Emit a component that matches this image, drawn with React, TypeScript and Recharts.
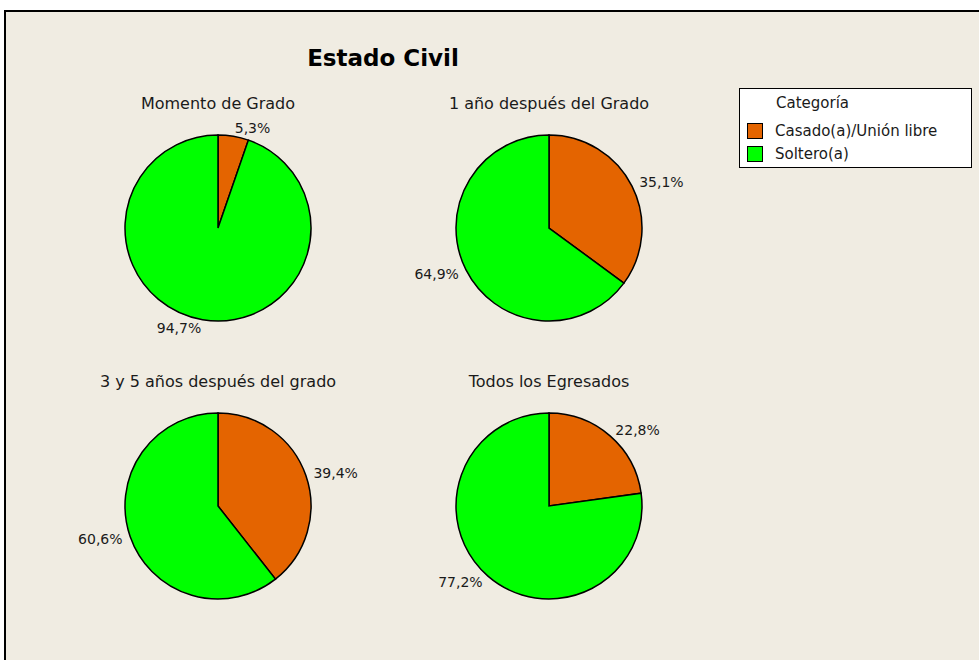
import React from "react";
import { PieChart, Pie, Cell } from "recharts";

const categories = ["Casado(a)/Unión libre", "Soltero(a)"];
const colors = ["#E46400", "#00FF00"];

const panelTitles = [
  "Momento de Grado",
  "1 año después del Grado",
  "3 y 5 años después del grado",
  "Todos los Egresados",
];
const casado = [5.3, 35.1, 39.4, 22.8];
const soltero = [94.7, 64.9, 60.6, 77.2];

// panel centres on the page
const centers = [
  [218, 228],
  [549, 228],
  [218, 506],
  [549, 506],
];

const RAD = Math.PI / 180;
const fmt = (v: number) => v.toFixed(1).replace(".", ",") + "%";

function PctLabel(props: any) {
  const { cx, cy, midAngle, outerRadius, value } = props;
  const r = outerRadius + 8;
  const x = cx + r * Math.cos(-midAngle * RAD);
  const y = cy + r * Math.sin(-midAngle * RAD);
  return (
    <text x={x} y={y} textAnchor={x >= cx ? "start" : "end"} dominantBaseline="central" fontSize={14} fill="#1a1a1a">
      {fmt(value)}
    </text>
  );
}

export default function App() {
  const font = "'DejaVu Sans', sans-serif";
  return (
    <div style={{ position: "absolute", left: 0, top: 0, width: 979, height: 660, overflow: "hidden", background: "#fff", fontFamily: font }}>
      <div style={{ position: "absolute", left: 4, top: 10, width: 1000, height: 700, border: "2px solid #000", background: "#F0ECE2" }} />
      <div style={{ position: "absolute", left: 0, top: 0 }}>
        <PieChart width={979} height={660} margin={{ top: 0, right: 0, bottom: 0, left: 0 }} style={{ fontFamily: font }}>
          <text x={383} y={58} textAnchor="middle" dominantBaseline="central" fontSize={23} fontWeight="bold" fill="#000">
            Estado Civil
          </text>
          {panelTitles.map((t, i) => (
            <text key={t} x={centers[i][0]} y={centers[i][1] - 125} textAnchor="middle" dominantBaseline="central" fontSize={16} fill="#1a1a1a">
              {t}
            </text>
          ))}
          {panelTitles.map((t, i) => (
            <Pie
              key={"p" + i}
              data={categories.map((c, j) => ({ name: c, value: j === 0 ? casado[i] : soltero[i] }))}
              dataKey="value"
              cx={centers[i][0]}
              cy={centers[i][1]}
              outerRadius={93}
              startAngle={90}
              endAngle={-270}
              stroke="#000"
              strokeWidth={1.5}
              labelLine={false}
              label={PctLabel}
              isAnimationActive={false}
            >
              {categories.map((c, j) => (
                <Cell key={c} fill={colors[j]} />
              ))}
            </Pie>
          ))}
        </PieChart>
      </div>
      <div style={{ position: "absolute", left: 739, top: 88, width: 231, height: 78, border: "1.5px solid #000", background: "#fff", fontSize: 15, color: "#1a1a1a" }}>
        <div style={{ position: "absolute", left: 36, top: 5 }}>Categoría</div>
        {categories.map((c, j) => (
          <div key={c} style={{ position: "absolute", left: 7, top: 33 + j * 23, display: "flex", alignItems: "center" }}>
            <span style={{ width: 16, height: 16, background: colors[j], border: "1px solid #000", boxSizing: "border-box", display: "inline-block" }} />
            <span style={{ marginLeft: 12 }}>{c}</span>
          </div>
        ))}
      </div>
    </div>
  );
}
